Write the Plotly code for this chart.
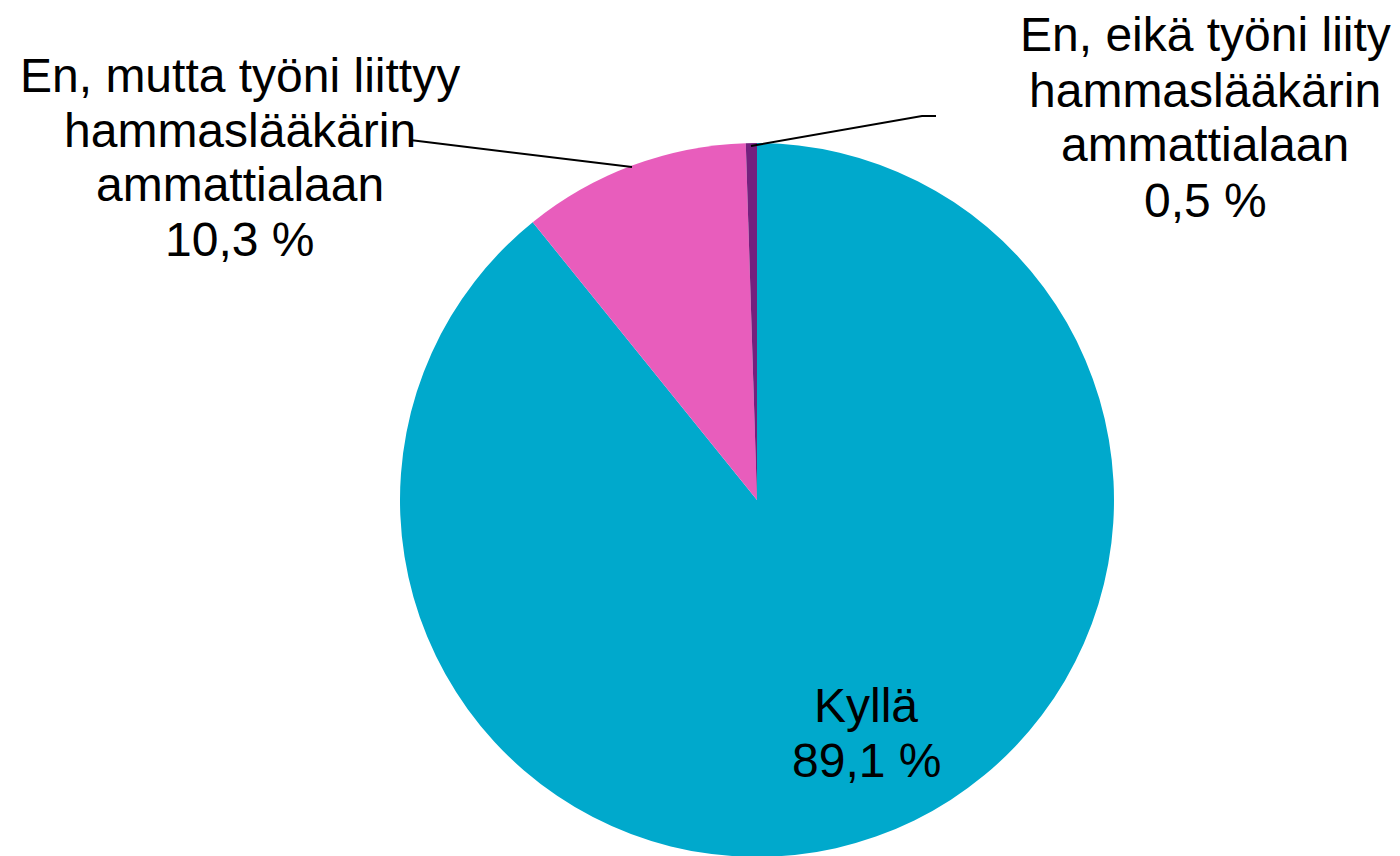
import plotly.graph_objects as go

labels = ["Kyllä", "En, mutta työni liittyy<br>hammaslääkärin<br>ammattialaan",
          "En, eikä työni liity<br>hammaslääkärin<br>ammattialaan"]
values = [89.1, 10.3, 0.5]
value_text = ["89,1 %", "10,3 %", "0,5 %"]
colors = ["#00A9CC", "#E85DBC", "#74207E"]

W, H = 1400, 856
OFF = 8  # page body margin


def px(x):
    return (x - OFF) / W


def py(y):
    return 1 - (y - OFF) / H


fig = go.Figure(go.Pie(
    labels=labels, values=values, sort=False, direction="clockwise", rotation=0,
    marker=dict(colors=colors, line=dict(width=0)),
    textinfo="none", hoverinfo="label+percent", showlegend=False,
    domain=dict(x=[px(400), px(1114)], y=[py(857), py(143)]),
))

font = dict(family="Liberation Sans, Arial, sans-serif", size=48, color="#000000")
label_x = [866, 240, 1205]
label_y0 = [705, 75, 35]
line_step = 55
for lab, vt, x, y0 in zip(labels, value_text, label_x, label_y0):
    lines = lab.split("<br>") + [vt]
    for i, ln in enumerate(lines):
        fig.add_annotation(text=ln, x=px(x), y=py(y0 + i * line_step), xref="paper", yref="paper",
                           showarrow=False, xanchor="center", yanchor="middle", font=font)

# leader lines
fig.add_shape(type="path", xref="paper", yref="paper",
              path=f"M {px(410)} {py(140)} L {px(632)} {py(167)}",
              line=dict(color="#000000", width=2))
fig.add_shape(type="path", xref="paper", yref="paper",
              path=f"M {px(751)} {py(146)} L {px(922)} {py(116)} L {px(936)} {py(116)}",
              line=dict(color="#000000", width=2))

fig.update_layout(width=W, height=H, margin=dict(l=0, r=0, t=0, b=0),
                  paper_bgcolor="white", plot_bgcolor="white")
fig.write_html("out.html")
